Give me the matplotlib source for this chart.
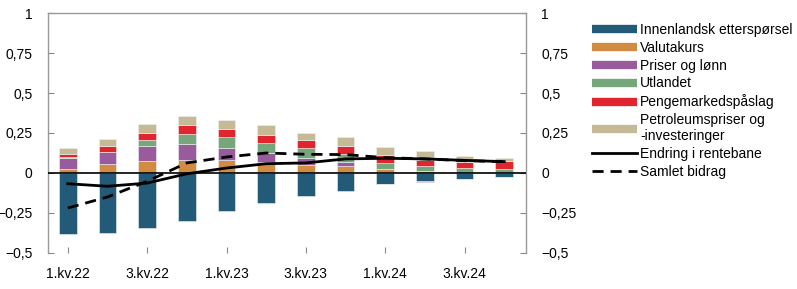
import numpy as np
import matplotlib
matplotlib.use("Agg")
import matplotlib.pyplot as plt
from matplotlib.lines import Line2D

plt.rcParams['font.family'] = ['Liberation Sans', 'DejaVu Sans']

# Quarters and tick labels
quarters = ["1.kv.22", "2.kv.22", "3.kv.22", "4.kv.22", "1.kv.23", "2.kv.23",
            "3.kv.23", "4.kv.23", "1.kv.24", "2.kv.24", "3.kv.24", "4.kv.24"]
tick_labels = ["1.kv.22", "3.kv.22", "1.kv.23", "3.kv.23", "1.kv.24", "3.kv.24"]

# Contributions (percentage points)
innenlandsk = [-0.379, -0.373, -0.341, -0.300, -0.239, -0.185, -0.146, -0.110, -0.066, -0.049, -0.035, -0.023]
valutakurs = [0.027, 0.054, 0.075, 0.083, 0.083, 0.067, 0.048, 0.042, 0.023, 0.012, 0.003, 0.002]
priser_lonn = [0.069, 0.075, 0.094, 0.096, 0.073, 0.058, 0.046, 0.027, -0.005, -0.005, -0.002, -0.001]
utlandet = [0.003, 0.004, 0.035, 0.067, 0.069, 0.063, 0.062, 0.052, 0.042, 0.032, 0.030, 0.021]
pengemarked = [0.018, 0.036, 0.048, 0.052, 0.048, 0.050, 0.050, 0.050, 0.050, 0.037, 0.038, 0.050]
petroleum = [0.039, 0.046, 0.052, 0.058, 0.060, 0.064, 0.046, 0.052, 0.050, 0.056, 0.037, 0.021]

rentebane = [-0.067, -0.083, -0.063, -0.005, 0.031, 0.058, 0.063, 0.088, 0.092, 0.088, 0.079, 0.071]
samlet = [-0.219, -0.150, -0.052, 0.063, 0.100, 0.125, 0.117, 0.115, 0.096, 0.088, 0.077, 0.071]

names = ["Innenlandsk etterspørsel", "Valutakurs", "Priser og lønn", "Utlandet",
         "Pengemarkedspåslag", "Petroleumspriser og\n-investeringer"]
colors = ["#225a78", "#d18c42", "#985b9b", "#76a77b", "#e0252f", "#c6b995"]
series = [innenlandsk, valutakurs, priser_lonn, utlandet, pengemarked, petroleum]

fig = plt.figure(figsize=(7.97, 2.89), dpi=100)
ax = fig.add_axes([0.0602, 0.1246, 0.5998, 0.8304])

x = np.arange(len(quarters))
pos_base = np.zeros(len(x))
neg_base = np.zeros(len(x))
for vals, col in zip(series, colors):
    v = np.array(vals)
    base = np.where(v >= 0, pos_base, neg_base)
    ax.bar(x, v, 0.45, bottom=base, color=col, edgecolor="#eef2f4", linewidth=0.4, zorder=2)
    pos_base += np.where(v >= 0, v, 0)
    neg_base += np.where(v < 0, v, 0)

ax.axhline(0, color="black", lw=1.2, zorder=3)
ax.plot(x, rentebane, color="black", lw=2, zorder=4, solid_joinstyle="round")
ax.plot(x, samlet, color="black", lw=2, dashes=(4, 2.5), zorder=4)

ax.set_xlim(-0.5, 11.55)
ax.set_ylim(-0.5, 1)
ax.set_xticks(x[::2])
ax.set_xticklabels(tick_labels)
yt = [-0.5, -0.25, 0, 0.25, 0.5, 0.75, 1]
ylab = ["\u22120,5", "\u22120,25", "0", "0,25", "0,5", "0,75", "1"]
ax.set_yticks(yt)
ax.set_yticklabels(ylab)
ax.tick_params(axis="y", which="both", direction="in", length=4, color="#888888", labelsize=10,
               left=True, right=True, labelleft=True, labelright=True)
ax.tick_params(axis="y", pad=11)
for t in ax.yaxis.get_major_ticks():
    t.label2.set_x(1.0)
    t.set_pad(11)
ax.yaxis.set_tick_params(which="major", pad=11)
ax.tick_params(axis="x", direction="in", length=4, color="#888888", labelsize=10, pad=10)
ax.spines["bottom"].set_visible(False)
for s in ["left", "right", "top"]:
    ax.spines[s].set_color("#999999")
    ax.spines[s].set_linewidth(1)

handles = [Line2D([0], [0], color=c, lw=6, solid_capstyle="butt") for c in colors]
handles.append(Line2D([0], [0], color="black", lw=2))
handles.append(Line2D([0], [0], color="black", lw=2, dashes=(4, 2.5)))
labels = names + ["Endring i rentebane", "Samlet bidrag"]
fig.legend(handles, labels, loc="upper left", bbox_to_anchor=(0.743, 0.921),
           frameon=False, fontsize=10, handlelength=3.2, handletextpad=0.25,
           labelspacing=0.28, borderpad=0, borderaxespad=0)

fig.savefig("out.png", dpi=100)
